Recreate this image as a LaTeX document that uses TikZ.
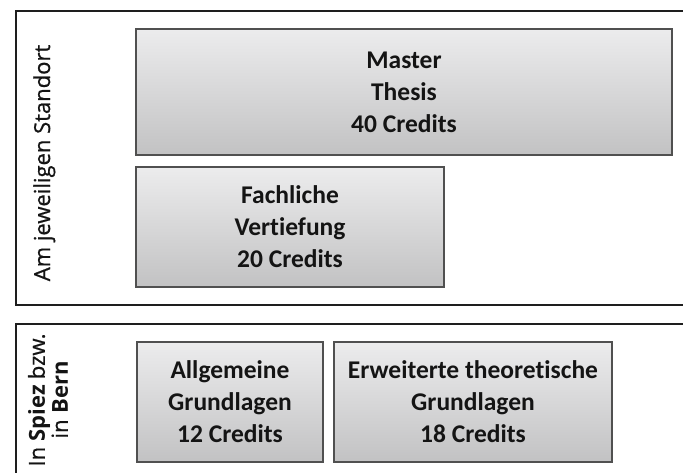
\documentclass[tikz,border=0pt]{standalone}
\usepackage{fontspec}
\setmainfont{Carlito}[Ligatures={NoCommon}]
\newfontfamily\sidefont{Open Sans}[UprightFeatures={FakeBold=0.8}]
\definecolor{boxtop}{RGB}{236,236,237}
\definecolor{boxbot}{RGB}{194,194,195}
\definecolor{boxline}{RGB}{80,80,80}
\definecolor{frameline}{RGB}{30,30,30}
\definecolor{textdark}{RGB}{20,20,20}
\begin{document}
\begin{tikzpicture}[x=1pt,y=-1pt,
  frame/.style={draw=frameline,line width=2.6pt,rectangle,inner sep=0pt},
  modbox/.style={draw=boxline,line width=1.3pt,rectangle,inner sep=0pt,
    top color=boxtop,bottom color=boxbot,align=center,text=textdark,
    font=\fontsize{25.5}{32}\selectfont\bfseries},
  sidelabel/.style={rotate=90,inner sep=0pt,align=center,text=textdark,
    font=\sidefont\fontsize{22}{23}\selectfont}]
\useasboundingbox (0,0) rectangle (683,472);
\clip (0,0) rectangle (683,472);
\node[frame,minimum width=690pt,minimum height=294pt] (frameA) at (361,158) {};
\node[frame,minimum width=690pt,minimum height=180pt] (frameB) at (361,414) {};
\node[modbox,minimum width=536pt,minimum height=126pt] (master) at (404,92) {Master\\Thesis\\40 Credits};
\node[modbox,minimum width=308pt,minimum height=120pt] (fach) at (290,227) {Fachliche\\Vertiefung\\20 Credits};
\node[modbox,minimum width=186pt,minimum height=120pt] (allg) at (230,402) {Allgemeine\\Grundlagen\\12 Credits};
\node[modbox,minimum width=278pt,minimum height=120pt] (erw) at (473,402) {Erweiterte theoretische\\Grundlagen\\18 Credits};
\node[sidelabel,anchor=base] (standort) at (50,163) {Am jeweiligen Standort};
\node[sidelabel] (ort) at (48,400) {In \textbf{Spiez} bzw.\\in \textbf{Bern}};
\end{tikzpicture}
\end{document}
